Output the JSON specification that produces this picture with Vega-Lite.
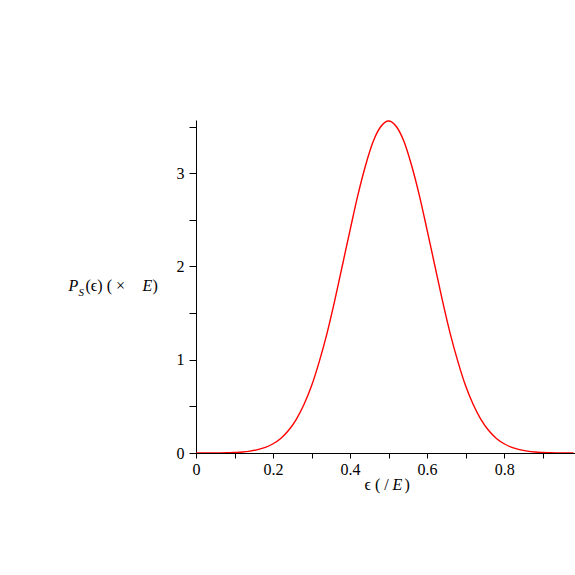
{
  "$schema": "https://vega.github.io/schema/vega-lite/v6.json",
  "width": 379,
  "height": 333,
  "autosize": {"type": "none"},
  "padding": {"left": 196, "top": 120, "right": 0, "bottom": 122},
  "background": "white",
  "config": {
    "view": {"stroke": null},
    "axis": {
      "grid": false,
      "domainColor": "black",
      "tickColor": "black",
      "labelColor": "black",
      "titleColor": "black",
      "labelFont": "Liberation Serif",
      "titleFont": "Liberation Serif",
      "labelFontSize": 16,
      "titleFontSize": 16,
      "titleFontWeight": "normal"
    }
  },
  "data": {
    "values": [
      {"e": 0.00, "p": 0.0},
      {"e": 0.02, "p": 0.00003},
      {"e": 0.04, "p": 0.0002},
      {"e": 0.06, "p": 0.0007},
      {"e": 0.08, "p": 0.002},
      {"e": 0.10, "p": 0.006},
      {"e": 0.12, "p": 0.011},
      {"e": 0.14, "p": 0.020},
      {"e": 0.16, "p": 0.036},
      {"e": 0.18, "p": 0.060},
      {"e": 0.20, "p": 0.099},
      {"e": 0.22, "p": 0.156},
      {"e": 0.24, "p": 0.241},
      {"e": 0.26, "p": 0.358},
      {"e": 0.28, "p": 0.517},
      {"e": 0.30, "p": 0.72},
      {"e": 0.32, "p": 0.98},
      {"e": 0.34, "p": 1.28},
      {"e": 0.36, "p": 1.63},
      {"e": 0.38, "p": 2.01},
      {"e": 0.40, "p": 2.39},
      {"e": 0.42, "p": 2.76},
      {"e": 0.44, "p": 3.08},
      {"e": 0.46, "p": 3.34},
      {"e": 0.48, "p": 3.50},
      {"e": 0.50, "p": 3.56},
      {"e": 0.52, "p": 3.50},
      {"e": 0.54, "p": 3.34},
      {"e": 0.56, "p": 3.08},
      {"e": 0.58, "p": 2.76},
      {"e": 0.60, "p": 2.39},
      {"e": 0.62, "p": 2.01},
      {"e": 0.64, "p": 1.63},
      {"e": 0.66, "p": 1.28},
      {"e": 0.68, "p": 0.98},
      {"e": 0.70, "p": 0.72},
      {"e": 0.72, "p": 0.517},
      {"e": 0.74, "p": 0.358},
      {"e": 0.76, "p": 0.241},
      {"e": 0.78, "p": 0.156},
      {"e": 0.80, "p": 0.099},
      {"e": 0.82, "p": 0.060},
      {"e": 0.84, "p": 0.036},
      {"e": 0.86, "p": 0.020},
      {"e": 0.88, "p": 0.011},
      {"e": 0.90, "p": 0.006},
      {"e": 0.92, "p": 0.002},
      {"e": 0.94, "p": 0.0007},
      {"e": 0.96, "p": 0.0002},
      {"e": 0.98, "p": 0.00003}
    ]
  },
  "resolve": {"axis": {"x": "independent", "y": "independent"}},
  "layer": [
    {
      "mark": {"type": "line", "color": "#ff0000", "strokeWidth": 1.4, "clip": true, "interpolate": "monotone"},
      "encoding": {
        "x": {
          "field": "e", "type": "quantitative",
          "scale": {"domain": [0, 0.984], "nice": false, "zero": false},
          "axis": {
            "orient": "bottom",
            "values": [0, 0.1, 0.2, 0.3, 0.4, 0.5, 0.6, 0.7, 0.8, 0.9],
            "labelExpr": "round(datum.value*10) % 2 == 0 ? (datum.value == 0 ? '0' : format(datum.value, '.1f')) : ''",
            "tickSize": 5,
            "labelPadding": 3,
            "labelAngle": 0,
            "labelFlush": false,
            "labelOverlap": false,
            "title": "ϵ ( /",
            "titleX": 168,
            "titleY": 36,
            "titleAlign": "left",
            "titleBaseline": "alphabetic"
          }
        },
        "y": {
          "field": "p", "type": "quantitative",
          "scale": {"domain": [0, 3.57], "nice": false},
          "axis": {
            "orient": "left",
            "values": [0, 0.5, 1, 1.5, 2, 2.5, 3, 3.5],
            "labelExpr": "round(datum.value*2) % 2 == 0 ? format(datum.value, 'd') : ''",
            "tickSize": 7,
            "labelPadding": 5,
            "labelFlush": false,
            "labelOverlap": false,
            "title": "P",
            "titleFontStyle": "italic",
            "titleAngle": 0,
            "titleX": -128,
            "titleY": 170,
            "titleAlign": "left",
            "titleBaseline": "alphabetic"
          }
        }
      }
    },
    {
      "mark": {"type": "line", "strokeOpacity": 0},
      "encoding": {
        "x": {
          "field": "e", "type": "quantitative",
          "scale": {"domain": [0, 0.984], "nice": false, "zero": false},
          "axis": {
            "orient": "bottom", "domain": false, "ticks": false, "labels": false,
            "title": "E", "titleFontStyle": "italic",
            "titleX": 196, "titleY": 36, "titleAlign": "left", "titleBaseline": "alphabetic"
          }
        },
        "y": {
          "field": "p", "type": "quantitative",
          "scale": {"domain": [0, 3.57], "nice": false},
          "axis": {
            "orient": "left", "domain": false, "ticks": false, "labels": false,
            "title": "S", "titleFontStyle": "italic", "titleFontSize": 11, "titleAngle": 0,
            "titleX": -118, "titleY": 175, "titleAlign": "left", "titleBaseline": "alphabetic"
          }
        }
      }
    },
    {
      "mark": {"type": "line", "strokeOpacity": 0},
      "encoding": {
        "x": {
          "field": "e", "type": "quantitative",
          "scale": {"domain": [0, 0.984], "nice": false, "zero": false},
          "axis": {
            "orient": "bottom", "domain": false, "ticks": false, "labels": false,
            "title": ")",
            "titleX": 208, "titleY": 36, "titleAlign": "left", "titleBaseline": "alphabetic"
          }
        },
        "y": {
          "field": "p", "type": "quantitative",
          "scale": {"domain": [0, 3.57], "nice": false},
          "axis": {
            "orient": "left", "domain": false, "ticks": false, "labels": false,
            "title": "(ϵ)  (  ×", "titleAngle": 0,
            "titleX": -111, "titleY": 170, "titleAlign": "left", "titleBaseline": "alphabetic"
          }
        }
      }
    },
    {
      "mark": {"type": "line", "strokeOpacity": 0},
      "encoding": {
        "x": {"field": "e", "type": "quantitative", "scale": {"domain": [0, 0.984], "nice": false, "zero": false}, "axis": null},
        "y": {
          "field": "p", "type": "quantitative",
          "scale": {"domain": [0, 3.57], "nice": false},
          "axis": {
            "orient": "left", "domain": false, "ticks": false, "labels": false,
            "title": "E", "titleFontStyle": "italic", "titleAngle": 0,
            "titleX": -54, "titleY": 170, "titleAlign": "left", "titleBaseline": "alphabetic"
          }
        }
      }
    },
    {
      "mark": {"type": "line", "strokeOpacity": 0},
      "encoding": {
        "x": {"field": "e", "type": "quantitative", "scale": {"domain": [0, 0.984], "nice": false, "zero": false}, "axis": null},
        "y": {
          "field": "p", "type": "quantitative",
          "scale": {"domain": [0, 3.57], "nice": false},
          "axis": {
            "orient": "left", "domain": false, "ticks": false, "labels": false,
            "title": ")", "titleAngle": 0,
            "titleX": -44, "titleY": 170, "titleAlign": "left", "titleBaseline": "alphabetic"
          }
        }
      }
    }
  ]
}
